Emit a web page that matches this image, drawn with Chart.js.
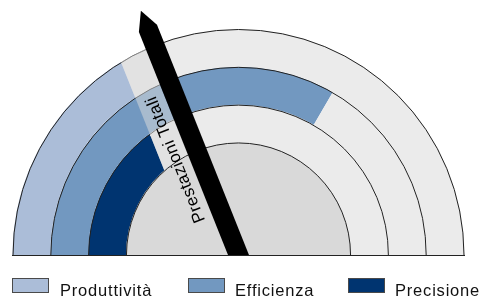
<!DOCTYPE html>
<html><head><meta charset="utf-8">
<script src="https://cdn.jsdelivr.net/npm/chart.js@4/dist/chart.umd.min.js"></script>
<style>
html,body{margin:0;padding:0;background:#fff;}
#wrap{position:relative;width:482px;height:299px;overflow:hidden;}
canvas{position:absolute;left:0;top:0;}
.sw{position:absolute;top:278px;width:35px;height:13px;border:1px solid #4a4a4a;}
.lt{position:absolute;top:281.5px;line-height:16px;font-family:"Liberation Sans",Arial,sans-serif;font-size:16.5px;letter-spacing:0.8px;color:#111;white-space:nowrap;}
</style></head><body>
<div id="wrap"><canvas id="c" width="482" height="299"></canvas><div id="legend"></div></div>
<script>
// ---- data ----
const categories = ["Produttività", "Efficienza", "Precisione"];
const values = [0.326, 0.667, 0.298];          // share of the half circle, from the left
const totalLabel = "Prestazioni Totali";
const totalValue = 0.379;                      // needle position

// ---- styles ----
const colors = ["#ABBDD8", "#7298C0", "#003470"];
const ringBg = "#EBEBEB";
const innerFill = "#D9D9D9";
const lineColor = "#222";
const bandColor = "rgba(218,218,218,0.52)";
const legendLeft = [11.5, 187.5, 347.5];
const legendTextLeft = [60, 235, 395];

function geom(chart){
  const rings = categories.map((_, i) => chart.getDatasetMeta(i).data[0]);
  const cx = rings[0].x, cy = rings[0].y, R = rings[0].outerRadius;
  const r0 = rings[rings.length - 1].innerRadius;
  const start = rings[0].startAngle;
  const a = start + totalValue * Math.PI;
  const d = [Math.cos(a), Math.sin(a)];
  const n = [Math.sin(a), -Math.cos(a)];
  const P = (u, v) => [cx + u * d[0] + v * n[0], cy + u * d[1] + v * n[1]];
  return {rings, cx, cy, R, r0, a, P, hw: 0.0431 * R, bw: 0.166 * R};
}
function poly(ctx, pts){
  ctx.beginPath();
  pts.forEach((p, i) => i ? ctx.lineTo(p[0], p[1]) : ctx.moveTo(p[0], p[1]));
  ctx.closePath();
}
function clipAnnulus(ctx, g, ri, ro){
  ctx.beginPath();
  ctx.arc(g.cx, g.cy, ro, Math.PI, 2 * Math.PI);
  ctx.arc(g.cx, g.cy, ri, 2 * Math.PI, Math.PI, true);
  ctx.closePath();
  ctx.clip();
}

const gaugePlugin = {
  id: 'gauge',
  beforeDatasetsDraw(chart){
    const g = geom(chart), ctx = chart.ctx;
    ctx.save();
    ctx.fillStyle = innerFill;
    ctx.beginPath();
    ctx.arc(g.cx, g.cy, g.r0, Math.PI, 2 * Math.PI);
    ctx.closePath();
    ctx.fill();
    ctx.restore();
  },
  afterDatasetsDraw(chart){
    const g = geom(chart), ctx = chart.ctx;
    const strip = () => poly(ctx, [g.P(0, g.hw), g.P(1.3 * g.R, g.hw), g.P(1.3 * g.R, g.bw), g.P(0, g.bw)]);
    // rings whose value stops before the needle show their background under the label band
    g.rings.forEach((el, i) => {
      if (values[i] < totalValue){
        ctx.save();
        clipAnnulus(ctx, g, el.innerRadius, el.outerRadius);
        ctx.fillStyle = ringBg;
        strip(); ctx.fill();
        ctx.restore();
      }
    });
    // ring outlines and baseline
    ctx.save();
    ctx.strokeStyle = lineColor;
    ctx.lineWidth = 1;
    const radii = g.rings.map(el => el.outerRadius).concat([g.r0]);
    radii.forEach(r => {
      ctx.beginPath();
      ctx.arc(g.cx, g.cy, r - 0.5, Math.PI, 2 * Math.PI);
      ctx.stroke();
    });
    ctx.beginPath();
    ctx.moveTo(g.cx - g.R - 0.5, g.cy + 0.5);
    ctx.lineTo(g.cx + g.R + 0.5, g.cy + 0.5);
    ctx.stroke();
    ctx.restore();
    // label band
    ctx.save();
    clipAnnulus(ctx, g, g.r0, g.R);
    ctx.fillStyle = bandColor;
    strip(); ctx.fill();
    ctx.restore();
    // needle
    ctx.save();
    ctx.beginPath();
    ctx.rect(0, 0, chart.width, g.cy);
    ctx.clip();
    ctx.fillStyle = "#000";
    poly(ctx, [g.P(-30, g.hw), g.P(1.08 * g.R, g.hw), g.P(1.164 * g.R, 0), g.P(1.08 * g.R, -g.hw), g.P(-30, -g.hw)]);
    ctx.fill();
    ctx.restore();
    // needle label
    ctx.save();
    const c = g.P(0.495 * g.R, (g.hw + g.bw) / 2 - 1);
    ctx.translate(c[0], c[1]);
    ctx.rotate(g.a);
    ctx.fillStyle = "#000";
    ctx.font = '17px "Liberation Sans", Arial, sans-serif';
    if ('letterSpacing' in ctx) ctx.letterSpacing = '0.35px';
    ctx.textAlign = 'center';
    ctx.textBaseline = 'middle';
    ctx.fillText(totalLabel, 0, 0);
    ctx.restore();
  }
};

new Chart(document.getElementById('c'), {
  type: 'doughnut',
  data: {
    labels: ["valore", "resto"],
    datasets: categories.map((name, i) => ({
      label: name,
      data: [values[i], 1 - values[i]],
      backgroundColor: [colors[i], ringBg],
      borderWidth: 0,
      hoverOffset: 0,
      offset: 0
    }))
  },
  options: {
    responsive: false,
    animation: false,
    rotation: -90,
    circumference: 180,
    cutout: '49.8%',
    layout: {padding: {left: 12.5, right: 17.5, top: 29, bottom: 44}},
    events: [],
    plugins: {legend: {display: false}, tooltip: {enabled: false}}
  },
  plugins: [gaugePlugin]
});

// legend
const leg = document.getElementById('legend');
categories.forEach((name, i) => {
  const sw = document.createElement('div');
  sw.className = 'sw';
  sw.style.left = legendLeft[i] + 'px';
  sw.style.background = colors[i];
  leg.appendChild(sw);
  const t = document.createElement('div');
  t.className = 'lt';
  t.style.left = legendTextLeft[i] + 'px';
  t.textContent = name;
  leg.appendChild(t);
});
</script>
</body></html>
